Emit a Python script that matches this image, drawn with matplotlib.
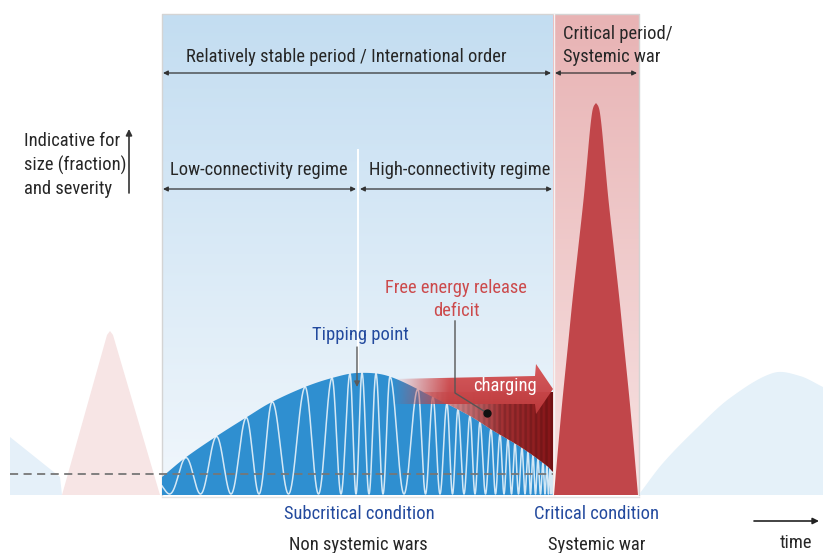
import numpy as np
import matplotlib
matplotlib.use('Agg')
import matplotlib.pyplot as plt
from matplotlib import font_manager
from matplotlib.patches import Polygon
from matplotlib.colors import to_rgb

# ---------------- data (pixel coordinates) ----------------
region_x = [162, 553, 639]           # stable period | critical period edges
region_top, baseline = 14, 495
regime_split = 358

env_x = [162, 185, 217, 247, 270, 305, 332, 357, 388, 433, 470, 492, 522, 547, 553]
env_y = [477, 458, 436, 417, 403, 387, 378, 373, 376, 397, 416, 430, 448, 466, 472]

peak_x = [185, 216, 246, 272, 305, 332, 350, 362, 376, 390, 418, 433, 447, 458, 470,
          480, 491, 500, 508, 515, 522, 528, 533, 538, 543, 547, 550, 552]

right_hump_x = [640, 663, 697, 730, 773, 800, 823]
right_hump_y = [493, 463, 428, 398, 373, 376, 387]

left_tail_x = [10, 60, 62, 10]
left_tail_y = [437, 477, 495, 495]

pink_x = [62, 107, 110, 113, 160]
pink_y = [495, 335, 331, 335, 495]

spike_y = [103, 106, 112, 130, 165, 200, 250, 300, 340, 410, 495]
spike_hw = [0, 2.2, 3.8, 6, 9.2, 12.5, 18, 23.5, 27.5, 34.5, 42]
spike_cx = 596

dashed_y = 474

# ---------------- fonts ----------------
names = {f.name for f in font_manager.fontManager.ttflist}
font_family = 'DejaVu Sans'
for cand in ['Roboto Condensed', 'Liberation Sans Narrow', 'Open Sans Condensed']:
    if cand in names:
        font_family = cand
        break
plt.rcParams['font.family'] = [font_family, 'DejaVu Sans']

# ---------------- helpers ----------------
def hermite(xk, yk, xq):
    xk = np.asarray(xk, float)
    yk = np.asarray(yk, float)
    m = np.zeros_like(yk)
    m[1:-1] = (yk[2:] - yk[:-2]) / (xk[2:] - xk[:-2])
    m[0] = (yk[1] - yk[0]) / (xk[1] - xk[0])
    m[-1] = (yk[-1] - yk[-2]) / (xk[-1] - xk[-2])
    idx = np.clip(np.searchsorted(xk, xq) - 1, 0, len(xk) - 2)
    h = xk[idx + 1] - xk[idx]
    t = (xq - xk[idx]) / h
    h00 = 2 * t ** 3 - 3 * t ** 2 + 1
    h10 = t ** 3 - 2 * t ** 2 + t
    h01 = -2 * t ** 3 + 3 * t ** 2
    h11 = t ** 3 - t ** 2
    return h00 * yk[idx] + h10 * h * m[idx] + h01 * yk[idx + 1] + h11 * h * m[idx + 1]


def vgrad(ax, x0, x1, y0, y1, c_top, c_bot, z):
    t = np.linspace(0, 1, 256)[:, None, None]
    img = np.array(to_rgb(c_top))[None, None, :] * (1 - t) + np.array(to_rgb(c_bot))[None, None, :] * t
    return ax.imshow(img, extent=(x0, x1, y1, y0), aspect='auto', zorder=z, interpolation='bilinear')


fig = plt.figure(figsize=(8.23, 5.53), dpi=100)
ax = fig.add_axes([0, 0, 1, 1])
ax.axis('off')

TXT = '#262626'
BLUE_T = '#234a9e'
RED_T = '#cc4a4c'
fs = 13.3

# ---------------- background regions ----------------
vgrad(ax, region_x[0], region_x[1], region_top, baseline, '#c3ddf1', '#f1f7fc', 0)
vgrad(ax, region_x[1], region_x[2], region_top, baseline, '#e8b3b4', '#f7e2e2', 0)
ax.plot([region_x[0], region_x[0], region_x[2], region_x[2]],
        [baseline, region_top, region_top, baseline], color='#d4d4d4', lw=1.0, zorder=0.5)
ax.plot([region_x[1] + 1, region_x[1] + 1], [region_top, baseline], color='#f4f4f4', lw=1.0, zorder=0.5)
ax.plot([region_x[0], region_x[2]], [baseline + 1.5, baseline + 1.5], color='#e2e2e2', lw=1.0, zorder=0.5)

# light shapes outside
ax.add_patch(Polygon(np.column_stack([left_tail_x, left_tail_y]), closed=True,
                     facecolor='#e5f0f9', edgecolor='none', zorder=1))
ax.add_patch(Polygon(np.column_stack([pink_x, pink_y]), closed=True,
                     facecolor='#f7e5e5', edgecolor='none', zorder=1))
rxs = np.linspace(right_hump_x[0], right_hump_x[-1], 400)
rys = hermite(right_hump_x, right_hump_y, rxs)
rh_poly = np.vstack([np.column_stack([rxs, rys]), [[823, baseline], [right_hump_x[0], baseline]]])
ax.add_patch(Polygon(rh_poly, closed=True, facecolor='#e5f1f9', edgecolor='none', zorder=1))

# regime divider
ax.plot([regime_split, regime_split], [150, 378], color='white', lw=1.4, zorder=1.5)

# ---------------- main blue hump ----------------
xs = np.linspace(env_x[0], env_x[-1], 6000)
env = hermite(env_x, env_y, xs)
hump_poly = np.vstack([np.column_stack([xs, env]), [[env_x[-1], baseline], [env_x[0], baseline]]])
ax.add_patch(Polygon(hump_poly, closed=True, facecolor='#2f8fd0', edgecolor='none', zorder=2))

# chirped oscillation (white)
px = np.array(peak_x, float)
p0 = 2 * px[0] - px[1]
pn = 2 * px[-1] - px[-2]
ph_x = np.concatenate([[p0], px, [pn]])
ph = 2 * np.pi * np.arange(-1, len(px) + 1)
phase = np.interp(xs, ph_x, ph)
wave_base = 494
yw = wave_base - (wave_base - env) * (0.5 + 0.5 * np.cos(phase))
ax.plot(xs, yw, color='white', lw=1.1, alpha=0.8, zorder=3, solid_joinstyle='round')

# ---------------- free energy release deficit (red stripes) ----------------
top_def = 392
mask = (xs > 380) & (env > top_def)
xd = xs[mask]
ed = env[mask]
def_poly = np.vstack([[[xd[0], top_def], [553, top_def]], np.column_stack([xd[::-1], ed[::-1]])])
def_patch = Polygon(def_poly, closed=True, facecolor='none', edgecolor='none')
ax.add_patch(def_patch)
ncol = 400
xx = np.linspace(xd[0], 553, ncol)
tt = (xx - xd[0]) / (553 - xd[0])
c0 = np.array([0.82, 0.36, 0.37])
c1 = np.array([0.52, 0.08, 0.09])
cols = c0[None, :] * (1 - tt[:, None]) + c1[None, :] * tt[:, None]
stripe = np.where((np.floor((xx - xd[0]) / 2.6) % 2) == 0, 1.0, 0.85)
cols = cols * stripe[:, None]
alpha = np.clip(0.45 + 0.9 * tt, 0, 1)
img = np.zeros((2, ncol, 4))
img[:, :, :3] = cols[None]
img[:, :, 3] = alpha[None]
im = ax.imshow(img, extent=(xd[0], 553, 495, top_def), aspect='auto', zorder=3.5, interpolation='bilinear')
im.set_clip_path(def_patch)

# ---------------- charging arrow ----------------
arrow_pts = [(393, 379), (535, 376), (536, 364), (553, 389), (536, 414), (535, 404), (393, 404)]
arr_patch = Polygon(arrow_pts, closed=True, facecolor='none', edgecolor='none')
ax.add_patch(arr_patch)
na = 300
ax_x = np.linspace(393, 553, na)
ta = (ax_x - 393) / 160
ny = 60
ty = np.linspace(0, 1, ny)[:, None]
base_c = np.array([0.80, 0.29, 0.30])
aimg = np.zeros((ny, na, 4))
aimg[:, :, 0] = base_c[0] * (1.05 - 0.12 * ty)
aimg[:, :, 1] = base_c[1] * (1.15 - 0.35 * ty)
aimg[:, :, 2] = base_c[2] * (1.15 - 0.35 * ty)
aimg[:, :, :3] = np.clip(aimg[:, :, :3], 0, 1)
aimg[:, :, 3] = np.clip(ta / 0.35, 0, 1)[None, :] * 0.97
im2 = ax.imshow(aimg, extent=(393, 553, 414, 364), aspect='auto', zorder=4, interpolation='bilinear')
im2.set_clip_path(arr_patch)
ax.text(505, 386, 'charging', color='white', fontsize=fs, ha='center', va='center', zorder=6)

# ---------------- red spike ----------------
sy = np.array(spike_y, float)
shw = np.array(spike_hw, float)
yy_s = np.linspace(sy[0], sy[-1], 300)
hw_s = hermite(sy, shw, yy_s)
spike_poly = np.vstack([np.column_stack([spike_cx - hw_s, yy_s]),
                        np.column_stack([spike_cx + hw_s[::-1], yy_s[::-1]])])
ax.add_patch(Polygon(spike_poly, closed=True, facecolor='#c1464a', edgecolor='none', zorder=2))

# dashed reference line
ax.plot([10, 553], [dashed_y, dashed_y], color='#777777', lw=1.3, dashes=(4.5, 3), zorder=5)

# ---------------- annotations ----------------
def dbl(x0, x1, y):
    ax.annotate('', xy=(x1, y), xytext=(x0, y),
                arrowprops=dict(arrowstyle='<|-|>', color='#333333', lw=0.9,
                                mutation_scale=7, shrinkA=0, shrinkB=0), zorder=6)

dbl(163, 551, 73)
dbl(555, 637, 73)
dbl(163, 356, 189)
dbl(360, 552, 189)

ax.text(346, 57, 'Relatively stable period / International order', color=TXT, fontsize=fs,
        ha='center', va='center')
ax.text(563, 34, 'Critical period/', color=TXT, fontsize=fs, ha='left', va='center')
ax.text(563, 57, 'Systemic war', color=TXT, fontsize=fs, ha='left', va='center')
ax.text(259, 170, 'Low-connectivity regime', color=TXT, fontsize=fs, ha='center', va='center')
ax.text(460, 170, 'High-connectivity regime', color=TXT, fontsize=fs, ha='center', va='center')

for yy, s in zip([141, 165, 189], ['Indicative for', 'size (fraction)', 'and severity']):
    ax.text(24, yy, s, color=TXT, fontsize=fs, ha='left', va='center')
ax.annotate('', xy=(129, 129), xytext=(129, 193),
            arrowprops=dict(arrowstyle='-|>', color='#333333', lw=1.2, mutation_scale=9,
                            shrinkA=0, shrinkB=0))

ax.text(360, 335, 'Tipping point', color=BLUE_T, fontsize=fs, ha='center', va='center')
ax.annotate('', xy=(357, 387), xytext=(357, 347),
            arrowprops=dict(arrowstyle='-|>', color='#5a5a5a', lw=1.0, mutation_scale=8,
                            shrinkA=0, shrinkB=0), zorder=6)

ax.text(456, 288, 'Free energy release', color=RED_T, fontsize=fs, ha='center', va='center')
ax.text(456, 311, 'deficit', color=RED_T, fontsize=fs, ha='center', va='center')
ax.plot([455, 455, 487], [321, 393, 413], color='#555555', lw=1.0, zorder=6)
ax.plot([487], [413], 'o', color='#111111', ms=5, zorder=6)

ax.text(359, 514, 'Subcritical condition', color=BLUE_T, fontsize=fs, ha='center', va='center')
ax.text(597, 514, 'Critical condition', color=BLUE_T, fontsize=fs, ha='center', va='center')
ax.text(358, 545, 'Non systemic wars', color=TXT, fontsize=fs, ha='center', va='center')
ax.text(597, 545, 'Systemic war', color=TXT, fontsize=fs, ha='center', va='center')
ax.text(796, 543, 'time', color=TXT, fontsize=fs, ha='center', va='center')
ax.annotate('', xy=(819, 521), xytext=(754, 521),
            arrowprops=dict(arrowstyle='-|>', color='#222222', lw=1.2, mutation_scale=9,
                            shrinkA=0, shrinkB=0))

ax.set_xlim(0, 823)
ax.set_ylim(553, 0)
fig.savefig('out.png', dpi=100)
